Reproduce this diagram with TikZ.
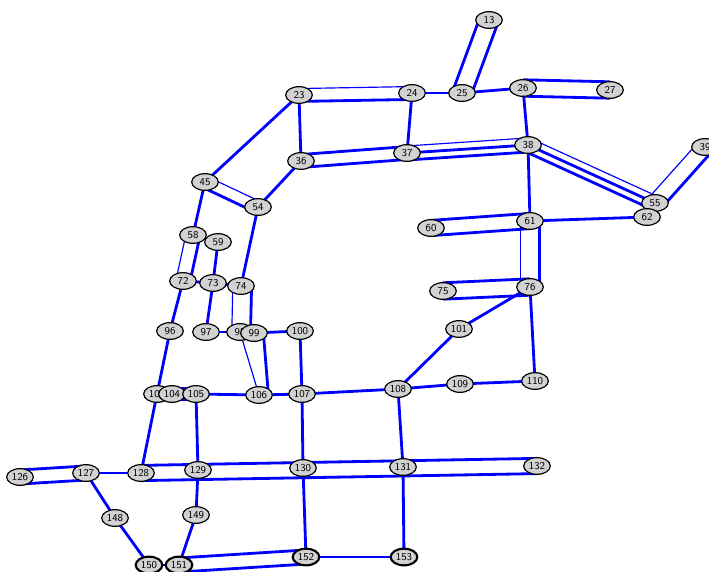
\documentclass[tikz,border=0pt]{standalone}
\usetikzlibrary{calc,backgrounds,shapes.geometric}
\tikzset{
  vert/.style={ellipse, draw=black, line width=1pt, fill=gray!35, minimum width=0.8cm,
    minimum height=0.5cm, inner sep=0pt, font=\sffamily\fontsize{9}{9}\selectfont},
  vertb/.style={vert, line width=1.8pt},
  bond/.style={blue, line width=2.4pt},
  thinbond/.style={blue, line width=1pt},
}
% one line of a multiple bond, shifted sideways by #4
\newcommand{\offbond}[4][bond]{\draw[#1] ($(n#2.center)!#4!90:(n#3.center)$) -- ($(n#3.center)!#4!-90:(n#2.center)$);}

\begin{document}
\begin{tikzpicture}[x=0.03cm,y=-0.03cm]
\useasboundingbox (0,0) rectangle (709,572);
\foreach \n/\x/\y in {13/489/20,23/299/95,24/412/93,25/462/93,26/523/88,27/610/90,
  36/301/161,37/407/153,38/528/145,39/705/147,45/205/182,54/258/207,55/655/203,
  58/193/235,59/218/242,60/431/228,61/530/221,62/647/217,72/183/281,73/213/283,
  74/241/286,75/443/291,76/530/287,96/170/331,97/206/332,98/240/332,99/254/333,
  100/300/331,101/459/329,103/157/394,104/172/394,105/196/394,106/259/395,
  107/302/394,108/398/389,109/460/384,110/535/381,126/20/477,127/86/473,
  128/141/473,129/198/470,130/303/468,131/403/467,132/537/466,148/115/518,
  149/196/515}
  \node[vert] (n\n) at (\x,\y) {\n};
\foreach \n/\x/\y in {150/149/565,151/179/565,152/306/557,153/404/557}
  \node[vertb] (n\n) at (\x,\y) {\n};

\begin{scope}[on background layer]
% single bonds
\foreach \a/\b in {23/36,24/37,24/25,25/26,26/38,23/45,36/54,38/61,61/62,76/101,
  76/110,101/108,107/108,108/109,109/110,108/131,45/58,58/59,59/73,72/73,73/74,
  54/74,72/96,73/97,97/98,98/99,99/100,96/103,100/107,103/104,105/106,106/107,
  105/129,103/128,107/130,127/128,127/148,148/150,129/149,149/151,150/151,
  152/153,130/152,131/153}
  \draw[bond] (n\a.center) -- (n\b.center);
% double bonds
\foreach \a/\b/\g in {13/25/8pt,26/27/7pt,36/37/5.5pt,60/61/6.5pt,75/76/7pt,
  104/105/5pt,126/127/6pt,128/132/6.5pt,151/152/6pt} {
  \offbond{\a}{\b}{\g}
  \offbond{\a}{\b}{-\g}
}
\offbond[thinbond]{23}{24}{5.5pt}
\offbond{23}{24}{-5.5pt}
\offbond[thinbond]{37}{38}{6pt}
\offbond{37}{38}{0pt}
\offbond{37}{38}{-6pt}
\offbond[thinbond]{38}{55}{6pt}
\offbond{38}{55}{0pt}
\offbond{38}{55}{-6pt}
\offbond[thinbond]{55}{39}{7pt}
\offbond{55}{39}{-7pt}
\offbond[thinbond]{45}{54}{5pt}
\offbond{45}{54}{-5pt}
\offbond[thinbond]{58}{72}{-6pt}
\offbond{58}{72}{6pt}
\offbond[thinbond]{61}{76}{-8pt}
\offbond{61}{76}{8pt}
\offbond[thinbond]{74}{98}{-7pt}
\offbond{74}{98}{9pt}
\draw[thinbond] (n98.center) -- (n106.center);
\offbond{99}{106}{8pt}
\end{scope}
\end{tikzpicture}
\end{document}
